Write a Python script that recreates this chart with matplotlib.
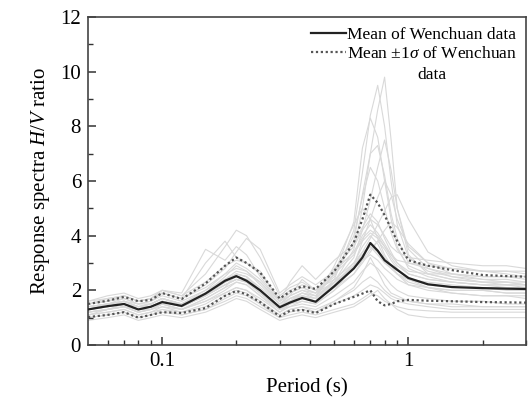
import matplotlib
matplotlib.use("Agg")
import matplotlib.pyplot as plt
from matplotlib.ticker import FixedLocator, NullFormatter, FixedFormatter

plt.rcParams['font.family'] = ['Liberation Serif', 'DejaVu Serif']
plt.rcParams['mathtext.fontset'] = 'custom'
plt.rcParams['mathtext.rm'] = 'Liberation Serif'
plt.rcParams['mathtext.it'] = 'Liberation Serif:italic'

# Period grid (s)
period = [0.05, 0.06, 0.07, 0.08, 0.09, 0.1, 0.12, 0.15, 0.18, 0.2, 0.22, 0.25, 0.3, 0.33,
          0.37, 0.42, 0.5, 0.6, 0.65, 0.7, 0.75, 0.8, 0.85, 0.9, 1.0, 1.2, 1.5, 2.0, 2.5, 3.0]

mean_hv = [1.3, 1.42, 1.5, 1.3, 1.4, 1.57, 1.43, 1.88, 2.35, 2.52, 2.35, 2.0, 1.38, 1.55,
           1.72, 1.58, 2.15, 2.8, 3.2, 3.73, 3.45, 3.1, 2.92, 2.75, 2.45, 2.22, 2.12, 2.08, 2.06, 2.05]
upper_hv = [1.5, 1.62, 1.76, 1.6, 1.65, 1.9, 1.68, 2.25, 2.9, 3.2, 3.0, 2.65, 1.7, 1.95,
            2.15, 2.05, 2.7, 3.75, 4.6, 5.5, 5.2, 4.75, 4.25, 3.8, 3.1, 2.9, 2.74, 2.56, 2.52, 2.5]
lower_hv = [1.02, 1.1, 1.2, 1.0, 1.1, 1.2, 1.17, 1.35, 1.8, 1.98, 1.85, 1.57, 1.05, 1.25,
            1.28, 1.17, 1.5, 1.76, 1.88, 2.0, 1.6, 1.45, 1.5, 1.6, 1.65, 1.62, 1.6, 1.57, 1.56, 1.55]

rec01 = [1.3,1.4,1.5,1.3,1.4,1.6,1.4,1.8,2.2,2.4,2.3,1.9,1.3,1.5,1.7,1.6,2.3,3.5,5.0,7.0,8.6,9.8,7.5,5.0,3.3,2.6,2.4,2.3,2.2,2.2]
rec02 = [1.2,1.3,1.4,1.2,1.3,1.5,1.3,1.7,2.1,2.6,2.5,2.0,1.4,1.6,1.8,1.7,2.4,4.2,6.3,8.4,9.5,8.0,6.0,4.4,3.2,2.7,2.5,2.4,2.3,2.3]
rec03 = [1.4,1.5,1.6,1.4,1.5,1.7,1.5,1.9,2.5,2.9,2.7,2.2,1.5,1.8,2.0,1.8,2.6,4.5,7.2,8.3,7.6,6.0,4.6,3.6,2.8,2.5,2.3,2.2,2.1,2.1]
rec04 = [1.5,1.6,1.7,1.5,1.6,1.8,1.6,2.0,2.4,2.7,2.6,2.3,1.6,1.9,2.1,1.9,2.5,3.8,5.5,7.0,7.3,6.2,4.8,3.9,3.0,2.8,2.6,2.5,2.5,2.4]
rec05 = [1.2,1.3,1.4,1.3,1.3,1.5,1.3,1.6,2.0,2.3,2.2,1.8,1.3,1.4,1.6,1.5,2.0,2.9,3.8,4.6,5.4,6.0,5.5,4.6,3.6,3.0,2.8,2.7,2.7,2.6]
rec06 = [1.6,1.8,1.9,1.7,1.8,2.0,1.8,2.6,3.6,4.2,4.0,3.2,1.8,2.1,2.3,2.0,2.6,3.3,3.9,4.2,4.0,3.6,3.2,2.9,2.6,2.4,2.3,2.2,2.2,2.2]
rec07 = [1.4,1.5,1.7,1.5,1.6,1.9,1.7,3.0,3.8,3.2,3.0,2.7,1.6,1.8,2.4,2.0,2.4,3.0,3.4,3.6,3.3,3.0,2.8,2.6,2.4,2.3,2.2,2.1,2.1,2.0]
rec08 = [1.0,1.1,1.2,1.0,1.1,1.2,1.1,1.3,1.6,1.8,1.7,1.4,1.0,1.1,1.2,1.1,1.3,1.5,1.7,1.9,1.8,1.6,1.5,1.4,1.3,1.25,1.2,1.2,1.2,1.2]
rec09 = [1.1,1.2,1.3,1.1,1.2,1.3,1.2,1.4,1.8,2.0,1.9,1.5,1.1,1.3,1.4,1.2,1.6,2.0,2.3,2.5,2.3,2.0,1.8,1.7,1.6,1.5,1.5,1.4,1.4,1.4]
rec10 = [1.5,1.6,1.8,1.6,1.7,1.9,1.7,2.1,2.6,2.8,2.7,2.3,1.5,1.8,2.0,1.9,2.8,3.6,4.2,4.6,4.4,4.0,3.6,3.4,3.2,3.1,3.0,2.9,2.9,2.8]
rec11 = [1.3,1.4,1.5,1.4,1.4,1.6,1.5,1.9,2.3,2.5,2.4,2.0,1.4,1.6,1.7,1.6,2.2,2.9,3.3,3.6,3.4,3.1,2.8,2.6,2.3,2.1,2.0,2.0,1.9,1.9]
rec12 = [1.2,1.3,1.5,1.3,1.4,1.6,1.4,1.8,2.2,2.4,2.3,1.9,1.3,1.6,1.9,1.7,2.9,4.4,5.0,4.6,3.9,3.3,2.9,2.6,2.2,2.0,1.9,1.8,1.8,1.8]
rec13 = [1.3,1.5,1.6,1.4,1.5,1.7,1.5,2.0,2.6,3.0,2.8,2.4,1.6,2.3,2.9,2.4,3.1,3.7,4.3,4.8,4.5,3.9,3.4,3.0,2.6,2.4,2.3,2.2,2.2,2.1]
rec14 = [0.9,1.0,1.1,0.9,1.0,1.1,1.0,1.2,1.5,1.7,1.6,1.3,0.9,1.0,1.1,1.0,1.2,1.4,1.6,1.8,2.0,1.7,1.5,1.3,1.1,1.0,1.0,1.0,1.0,1.0]
rec15 = [1.3,1.4,1.6,1.4,1.5,1.7,1.5,1.9,2.3,2.6,2.5,2.0,1.4,1.7,1.8,1.7,2.3,3.2,4.2,5.3,6.5,7.5,6.4,5.0,3.5,2.8,2.5,2.3,2.3,2.2]
rec16 = [1.4,1.5,1.6,1.4,1.5,1.7,1.5,1.9,2.3,2.5,2.4,2.0,1.4,1.7,1.9,1.8,2.3,2.9,3.4,3.9,4.4,4.9,5.4,5.5,4.6,3.4,2.9,2.7,2.6,2.5]
rec17 = [1.2,1.3,1.4,1.2,1.3,1.4,1.3,1.6,1.9,2.1,2.0,1.7,1.2,1.4,1.5,1.4,1.8,2.3,2.7,3.0,2.8,2.5,2.2,2.0,1.8,1.7,1.6,1.6,1.5,1.5]
rec18 = [1.5,1.7,1.8,1.6,1.7,1.9,1.7,2.2,2.8,3.4,3.9,3.5,1.9,2.2,2.5,2.2,2.7,3.4,4.0,4.4,4.1,3.7,3.3,3.0,2.7,2.6,2.6,2.5,2.5,2.5]
rec19 = [1.1,1.3,1.4,1.2,1.3,1.5,1.3,1.7,2.1,2.3,2.2,1.8,1.2,1.5,1.6,1.5,2.0,2.6,3.1,3.5,3.8,3.5,3.1,2.8,2.4,2.1,1.9,1.8,1.8,1.7]
rec20 = [1.4,1.5,1.6,1.5,1.5,1.7,1.5,1.9,2.4,2.6,2.5,2.1,1.5,1.7,1.9,1.8,2.6,4.0,5.4,6.5,6.0,5.0,4.1,3.5,2.9,2.6,2.4,2.3,2.3,2.2]
rec21 = [1.0,1.1,1.2,1.0,1.1,1.3,1.1,1.3,1.7,1.9,1.8,1.5,1.0,1.2,1.3,1.2,1.5,1.8,2.0,2.2,2.1,1.9,1.7,1.6,1.5,1.4,1.3,1.3,1.3,1.3]
rec22 = [1.6,1.7,1.8,1.6,1.7,2.0,1.8,2.3,2.9,3.1,3.0,2.6,1.7,2.0,2.2,2.0,2.7,3.4,3.8,4.1,3.9,3.6,3.3,3.1,3.0,2.9,2.8,2.7,2.7,2.7]
rec23 = [1.3,1.4,1.5,1.3,1.4,1.6,1.4,1.8,2.2,2.4,2.3,1.9,1.3,1.5,1.7,1.6,2.1,2.6,3.0,3.4,3.8,4.2,4.5,4.3,3.7,3.0,2.6,2.4,2.4,2.3]
rec24 = [1.5,1.6,1.8,1.6,1.7,2.0,1.9,3.5,3.1,3.6,3.3,2.5,1.6,1.9,2.1,1.9,2.3,2.8,3.1,3.3,3.1,2.8,2.6,2.4,2.2,2.1,2.0,2.0,1.9,1.9]
rec25 = [1.3,1.4,1.5,1.3,1.4,1.6,1.4,1.8,2.3,2.5,2.4,2.0,1.4,1.6,1.8,1.6,2.2,3.0,3.6,4.0,3.7,3.2,2.9,2.6,2.4,2.2,2.1,2.1,2.0,2.0]
rec26 = [1.1,1.2,1.3,1.1,1.2,1.4,1.2,1.5,1.9,2.1,2.0,1.6,1.1,1.3,1.4,1.3,1.6,2.1,2.6,3.2,2.7,2.2,1.9,1.8,1.6,1.5,1.4,1.4,1.4,1.4]

records = [rec01, rec02, rec03, rec04, rec05, rec06, rec07, rec08, rec09, rec10, rec11, rec12, rec13,
           rec14, rec15, rec16, rec17, rec18, rec19, rec20, rec21, rec22, rec23, rec24, rec25, rec26]

fig = plt.figure(figsize=(5.28, 4.01), dpi=100)
ax = fig.add_axes([0.1667, 0.1397, 0.8295, 0.8179])

for rec in records:
    ax.plot(period, rec, color='#d9d9d9', lw=0.8, zorder=1)

ax.plot(period, mean_hv, color='#222222', lw=1.6, zorder=3, label='Mean of Wenchuan data')
ax.plot(period, upper_hv, color='#555555', lw=1.6, ls=(0, (1, 1.2)), zorder=2,
        label='Mean $\\pm$1$\\sigma$ of Wenchuan')
ax.plot(period, lower_hv, color='#555555', lw=1.6, ls=(0, (1, 1.2)), zorder=2)

ax.set_xscale('log')
ax.set_xlim(0.05, 3.0)
ax.set_ylim(0, 12)
ax.set_yticks([0, 2, 4, 6, 8, 10, 12])
ax.yaxis.set_minor_locator(FixedLocator([1, 3, 5, 7, 9, 11]))
ax.xaxis.set_major_locator(FixedLocator([0.1, 1]))
ax.xaxis.set_major_formatter(FixedFormatter(['0.1', '1']))
ax.xaxis.set_minor_locator(FixedLocator([0.06, 0.07, 0.08, 0.09, 0.2, 0.3, 0.4, 0.5, 0.6,
                                         0.7, 0.8, 0.9, 2.0, 3.0]))
ax.xaxis.set_minor_formatter(NullFormatter())

ax.tick_params(which='both', direction='in', colors='#333333', labelcolor='black',
               labelsize=15, top=False, right=False)
ax.tick_params(which='major', length=6, width=1.1, pad=5)
ax.tick_params(which='minor', length=3.5, width=1.0)
for sp in ax.spines.values():
    sp.set_color('#444444')
    sp.set_linewidth(1.2)

ax.set_xlabel('Period (s)', fontsize=15, labelpad=5)
ax.set_ylabel('Response spectra $H/V$ ratio', fontsize=15, labelpad=6)

leg = ax.legend(loc='upper right', frameon=False, fontsize=12.5, handlelength=2.0,
                handletextpad=0.05, borderaxespad=0.15, labelspacing=0.2,
                bbox_to_anchor=(1.0, 1.0))
fig.text(432 / 528, 1 - 75 / 401, 'data', fontsize=12.5, ha='center', va='center')

fig.savefig('out.png', dpi=100)
